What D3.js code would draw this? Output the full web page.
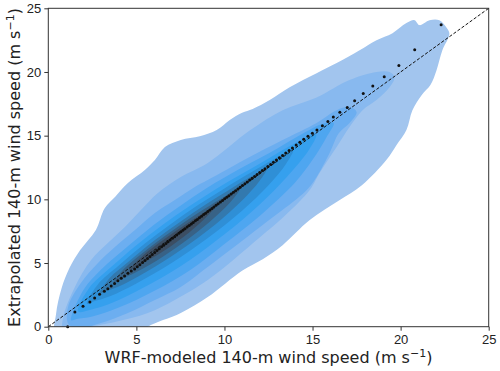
<!DOCTYPE html>
<html>
<head>
<meta charset="utf-8">
<script src="https://cdn.jsdelivr.net/npm/d3@7/dist/d3.min.js"></script>
<style>
body{margin:0;background:#fff;}
svg{display:block;font-family:"DejaVu Sans",sans-serif;}
.axis text{font-size:13px;fill:#222;}
.axis path{display:none;}
.axis line{stroke:#333;stroke-width:1;}
.t_label{font-size:16px;fill:#222;}
</style>
</head>
<body>
<svg width="500" height="371"></svg>
<script>
/* ----------------------------------------------------------
data
---------------------------------------------------------- */

var xTicks = [0, 5, 10, 15, 20, 25];
var yTicks = [0, 5, 10, 15, 20, 25];

// quantile dots (WRF, extrapolated), percentiles 0..100
var qWrf = [1.10,1.51,1.97,2.36,2.63,2.91,3.18,3.38,3.57,3.76,3.95,4.14,4.33,4.52,4.71,4.90,
	5.05,5.20,5.35,5.49,5.63,5.77,5.90,6.04,6.17,6.30,6.43,6.55,6.68,6.80,6.92,7.05,7.17,7.29,7.41,7.53,
	7.64,7.76,7.88,8.00,8.12,8.23,8.35,8.46,8.58,8.70,8.82,8.93,9.05,9.17,9.29,9.40,9.52,9.64,9.77,9.89,
	10.01,10.13,10.25,10.38,10.51,10.63,10.76,10.89,11.02,11.16,11.29,11.43,11.57,11.71,11.85,12.00,12.15,
	12.30,12.46,12.62,12.78,12.95,13.12,13.30,13.48,13.67,13.86,14.07,14.28,14.50,14.74,14.99,15.25,15.56,
	15.87,16.18,16.55,16.97,17.39,17.88,18.42,19.07,19.90,20.80,22.30];
var qExt = [0.00,1.15,1.60,1.94,2.25,2.54,2.78,2.98,3.19,3.40,3.61,3.80,3.98,4.19,4.37,4.53,
	4.70,4.87,5.04,5.20,5.36,5.52,5.67,5.83,5.98,6.13,6.27,6.40,6.54,6.67,6.80,6.94,7.07,7.20,7.33,7.45,
	7.57,7.69,7.82,7.94,8.07,8.18,8.31,8.42,8.55,8.67,8.80,8.91,9.04,9.16,9.29,9.40,9.53,9.65,9.79,9.91,
	10.04,10.16,10.29,10.42,10.56,10.68,10.82,10.95,11.09,11.23,11.37,11.51,11.66,11.80,11.95,12.10,12.26,
	12.41,12.58,12.74,12.91,13.08,13.26,13.45,13.64,13.84,14.04,14.26,14.48,14.71,14.95,15.19,15.44,15.78,
	16.12,16.46,16.83,17.22,17.74,18.32,18.89,19.62,20.51,21.74,23.70];

// density contours, outermost first ([wrf, extrapolated] around each)
var level1 = [[0.44,-0.6],[0.44,1.0],[0.75,3.0],[1.2,4.6],[1.8,6.0],[2.7,7.6],[3.2,9.3],[3.8,10.2],
	[4.52,11.28],[5.48,12.3],[6.05,13.08],[6.62,14.1],[7.52,14.66],[8.6,14.95],[9.56,15.44],[10.3,16.23],
	[11.0,16.8],[11.6,17.1],[12.57,17.8],[13.7,18.8],[15.23,19.9],[16.37,20.7],[17.67,21.7],[18.63,22.5],
	[19.54,23.05],[20.33,23.84],[20.79,24.07],[21.07,23.68],[21.64,24.07],[22.2,24.07],[22.6,23.5],
	[22.77,23.0],[22.37,21.7],[22.03,20.1],[21.7,19.0],[21.2,18.2],[20.67,17.0],[20.33,15.44],[19.77,14.26],
	[19.2,13.1],[17.8,11.1],[16.5,9.9],[14.84,8.37],[13.3,6.4],[12.17,5.3],[11.0,4.4],[9.05,2.33],
	[7.52,1.08],[5.65,0.0],[5.2,-0.6]];
var level2 = [[0.85,-0.4],[0.85,0.76],[1.51,3.12],[2.43,5.24],[3.38,6.57],[4.35,7.83],[5.26,9.16],
	[6.22,10.5],[7.52,11.75],[9.05,12.85],[11.43,15.4],[13.3,17.0],[15.23,18.0],[17.1,19.37],[18.63,20.0],
	[19.37,20.0],[19.65,19.6],[19.37,18.8],[18.63,17.8],[17.84,17.0],[17.1,15.68],[16.37,14.1],[15.4,12.07],
	[14.84,10.73],[13.5,8.8],[12.0,7.0],[9.05,3.66],[7.18,2.1],[5.65,1.08],[3.78,0.37],[2.25,-0.1],[2.0,-0.4]];
var level3 = [[1.15,0.2],[1.12,1.55],[1.85,3.43],[2.82,5.0],[3.78,6.26],[4.92,7.59],[6.05,8.93],
	[7.18,9.94],[8.32,10.97],[9.05,11.51],[11.43,13.32],[13.3,14.66],[15.23,16.0],[16.37,17.0],[17.1,17.25],
	[17.5,16.86],[17.1,15.99],[16.5,15.2],[15.97,13.63],[15.23,11.75],[14.67,10.73],[12.0,7.8],[9.05,4.68],
	[7.52,3.12],[6.05,2.1],[4.52,1.08],[2.99,0.29],[1.85,-0.1]];
var level4 = [[1.3,0.5],[2.0,2.9],[3.0,4.5],[4.5,6.3],[6.0,8.0],[7.5,9.5],[9.0,10.9],[11.0,12.5],
	[13.0,14.0],[14.5,15.2],[15.5,15.9],[16.2,16.0],[15.8,14.9],[15.0,13.1],[14.0,11.3],[12.0,8.7],
	[10.0,6.5],[8.0,4.4],[6.0,2.8],[4.0,1.5],[2.5,0.8],[1.6,0.6]];
var level5 = [[1.7,1.2],[2.3,3.0],[3.5,4.6],[5.0,6.4],[6.5,8.0],[8.0,9.45],[9.5,10.8],[11.0,12.0],
	[12.5,13.2],[14.0,14.4],[15.2,15.1],[14.8,13.9],[13.5,11.7],[12.0,9.6],[10.0,7.25],[8.0,5.2],
	[6.0,3.5],[4.0,2.1],[2.6,1.4]];
var level6 = [[2.2,1.8],[2.8,3.3],[4.0,4.8],[5.5,6.55],[7.0,8.1],[8.5,9.55],[10.0,10.85],[11.5,12.1],
	[12.8,13.15],[13.9,13.9],[13.5,12.8],[12.5,11.1],[11.0,9.1],[9.0,6.9],[7.0,5.0],[5.0,3.4],[3.5,2.4],[2.6,2.0]];
var level7 = [[2.9,2.6],[3.5,3.85],[4.5,5.05],[6.0,6.75],[7.5,8.25],[9.0,9.65],[10.5,10.95],[11.6,11.85],
	[12.4,12.4],[12.0,11.45],[11.0,9.9],[9.5,8.05],[7.5,6.0],[5.5,4.25],[4.0,3.15],[3.2,2.75]];
var level8 = [[3.7,3.45],[4.3,4.55],[5.5,5.95],[7.0,7.5],[8.5,8.92],[9.8,10.05],[10.9,10.9],[10.5,10.05],
	[9.5,8.65],[8.0,6.95],[6.5,5.5],[5.0,4.3],[4.0,3.65]];
var level9 = [[4.6,4.45],[5.3,5.5],[6.5,6.78],[8.0,8.22],[9.5,9.45],[9.0,8.65],[8.0,7.4],[6.5,5.9],[5.2,4.85]];

var levels = [level1, level2, level3, level4, level5, level6, level7, level8, level9];
var levelColors = ["#a2c5ee","#88b9ef","#6caef0","#4ea6f0","#35a0ee","#2f8fd6","#3379ae","#386286","#3c4e63"];

/* ----------------------------------------------------------
setting
---------------------------------------------------------- */

var margin = {left:48.3, top:8.3, right:11.3, bottom:44.3};
var width = 500 - margin.left - margin.right;
var height = 371 - margin.top - margin.bottom;

var svg = d3.select("svg");
var g = svg.append("g").attr("transform","translate(" + margin.left + "," + margin.top + ")");

var x = d3.scaleLinear().domain([0, 25]).range([0, width]);
var y = d3.scaleLinear().domain([0, 25]).range([height, 0]);

svg.append("defs").append("clipPath").attr("id","plotClip")
	.append("rect").attr("width", width).attr("height", height);

//contours
var contourLine = d3.line()
	.x(function(d){ return x(d[0]); })
	.y(function(d){ return y(d[1]); })
	.curve(d3.curveCatmullRomClosed.alpha(0.5));

var gContour = g.append("g").attr("clip-path","url(#plotClip)");
gContour.selectAll("path")
	.data(levels)
	.enter().append("path")
	.attr("d", contourLine)
	.style("fill", function(d, i){ return levelColors[i]; })
	.style("stroke", "none");

//1:1 line
var dom = x.domain();
gContour.append("line")
	.attr("x1", x(dom[0])).attr("y1", y(dom[0]))
	.attr("x2", x(dom[1])).attr("y2", y(dom[1]))
	.style("stroke", "#111").style("stroke-width", 1).style("stroke-dasharray", "3.2,1.8");

//quantile dots
g.append("g").selectAll("circle")
	.data(qWrf)
	.enter().append("circle")
	.attr("cx", function(d){ return x(d); })
	.attr("cy", function(d, i){ return y(qExt[i]); })
	.attr("r", 1.5)
	.style("fill", "#111");

//axis
var xAxis = d3.axisBottom(x).tickValues(xTicks).tickSize(4).tickPadding(4);
var yAxis = d3.axisLeft(y).tickValues(yTicks).tickSize(4).tickPadding(3);
g.append("g").attr("class","axis").attr("transform","translate(0," + height + ")").call(xAxis);
g.append("g").attr("class","axis").call(yAxis);

g.append("rect").attr("width", width).attr("height", height)
	.style("fill","none").style("stroke","#333").style("stroke-width", 1);

//labels
var xLabel = svg.append("text").attr("class","t_label")
	.attr("x", margin.left + width / 2).attr("y", 363.3).style("text-anchor","middle");
xLabel.append("tspan").text("WRF-modeled 140-m wind speed (m s");
xLabel.append("tspan").attr("dy", -6).style("font-size","11px").text("\u22121");
xLabel.append("tspan").attr("dy", 6).text(")");

var yLabel = svg.append("text").attr("class","t_label")
	.attr("transform","translate(20," + (margin.top + height / 2) + ") rotate(-90)")
	.style("text-anchor","middle");
yLabel.append("tspan").text("Extrapolated 140-m wind speed (m s");
yLabel.append("tspan").attr("dy", -6).style("font-size","11px").text("\u22121");
yLabel.append("tspan").attr("dy", 6).text(")");
</script>
</body>
</html>
